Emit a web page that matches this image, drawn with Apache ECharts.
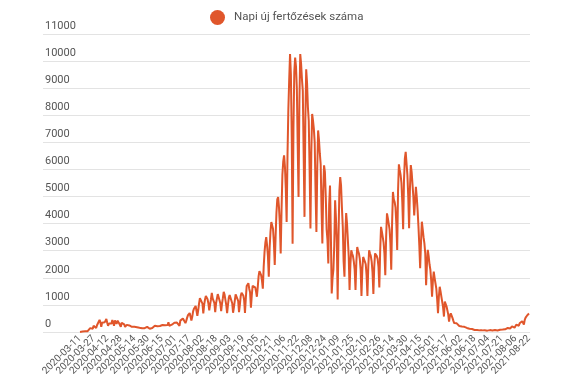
<!DOCTYPE html>
<html><head><meta charset="utf-8">
<script src="https://cdn.jsdelivr.net/npm/echarts@6/dist/echarts.min.js"></script>
<style>html,body{margin:0;padding:0;background:#fff}#c{width:575px;height:392px}</style>
</head><body><div id="c"></div>
<script>
const seriesName = 'Napi új fertőzések száma';
// daily values, month by month
const mar2020 = [4,10,30,19,16,29,26,62,32,31,59,66,143,186,144,123,230,160,260,146,250];
const apr2020 = [264,269,445,361,193,343,360,355,356,363,480,345,229,310,342,327,318,443,342,232,424,409,300,418,404,324,254,193,339,358];
const may2020 = [327,279,190,190,264,320,265,241,270,233,190,227,229,196,224,151,178,176,166,155,193,168,137,147,129,140,154,175,190,183,222];
const jun2020 = [120,150,140,150,200,170,230,190,160,210,260,220,220,240,230,260,190,270,250,270,220,260,360,230,250,250,270,340,330,340];
const jul2020 = [330,320,350,340,300,230,420,480,450,500,560,480,330,420,530,620,580,700,640,420,560,760,860,930,960,920,600,800,1050,1250,1220];
const aug2020 = [1300,1050,690,1000,1200,1330,1370,1210,1050,800,1010,1210,1440,1240,1240,1070,730,1060,1230,1400,1410,1390,1060,770,1050,1250,1480,1380,1360,990,700];
const sep2020 = [1000,1270,1360,1300,1300,1060,710,910,1150,1390,1440,1380,1150,730,1000,1330,1450,1470,1350,1180,700,1250,1700,1640,1800,1600,1470,900,1350,1700];
const oct2020 = [1760,1700,1650,1500,1300,1650,2050,2250,2300,2100,1900,1600,2400,2950,3300,3500,3200,2800,2040,3100,3700,4060,4000,3800,3300,2470,3500,4400,4900,4980,4600];
const nov2020 = [4000,2900,4500,5800,6300,6520,6100,5300,4060,6500,8200,9300,10260,9500,7200,3260,7500,9600,10130,9800,9000,6900,4980,8500,10260,9900,9340,8900,6600,4250];
const dec2020 = [7800,9700,9200,8300,7800,6000,3820,6600,8050,7800,7500,7000,5200,3690,6000,7440,7100,6600,6200,4600,3270,5200,6150,5900,5000,3800,3400,2530,4700,5410,3600];
const jan2021 = [1420,2000,2300,3200,4860,4200,3300,1200,3500,5200,5720,5400,4600,3900,2600,2040,3600,4390,4000,3390,2800,1550,2500,3020,2900,2800,2600,2300,1550,2600,3140];
const feb2021 = [3000,2900,2700,2300,1330,2300,2770,2700,2600,2500,2100,1330,2400,3020,2900,2800,2600,2200,1400,2400,2900,2850,2800,2700,2400,1640,3000,3880];
const mar2021 = [3700,3500,3300,2900,2100,3500,4380,4200,4000,3800,3300,2300,4000,5170,4900,4800,4600,4000,3030,5200,6190,5980,5800,5500,4800,3790,5600,6400,6650,6220,5800];
const apr2021 = [5000,3830,5300,6160,5900,5860,5000,4300,4800,5360,4980,4500,3900,3200,2350,3300,4070,3800,3500,3270,2900,1730,2500,3030,2800,2500,2300,1900,1300,1900];
const may2021 = [2230,2000,1800,1600,1200,690,1300,1670,1500,1300,1100,900,570,1120,1050,950,800,650,380,600,690,620,520,420,330,260,340,320,290,260,220];
const jun2021 = [200,240,200,180,220,190,150,130,150,170,140,120,100,90,110,100,85,75,70,80,75,70,65,60,70,65,60,55,55,65];
const jul2021 = [60,55,50,45,60,70,65,60,55,50,65,75,70,65,55,70,80,85,80,65,90,110,115,100,80,120,150,160,170,130];
const aug2021 = [180,210,220,200,160,230,270,290,300,230,320,360,390,400,340,270,450,530,580,620,650,680];

// category (date) labels
const startDate = '2020-03-11';
const endDate = '2021-08-22';
const missingDates = ['2021-07-11'];
const labelEvery = 16;
const yMin = 0, yMax = 11000, yStep = 1000;

function buildDates() {
  const out = [];
  const d = new Date(startDate + 'T00:00:00Z');
  const end = new Date(endDate + 'T00:00:00Z');
  while (d <= end) {
    const s = d.toISOString().slice(0, 10);
    if (missingDates.indexOf(s) < 0) out.push(s);
    d.setUTCDate(d.getUTCDate() + 1);
  }
  return out;
}
const categories = buildDates();
const lastIdx = categories.length - 1;
const values = [].concat(mar2020, apr2020, may2020, jun2020, jul2020, aug2020, sep2020, oct2020, nov2020, dec2020,
  jan2021, feb2021, mar2021, apr2021, may2021, jun2021, jul2021, aug2021);

const lineColor = '#e0562b';
const xLabelStyle = {rotate: 45, fontSize: 10, color: '#555', margin: 5, fontFamily: 'Roboto'};
const chart = echarts.init(document.getElementById('c'), null, {renderer: 'canvas'});
chart.setOption({
  animation: false,
  textStyle: {fontFamily: 'Roboto'},
  legend: {
    data: [seriesName], left: 205, top: 5, icon: 'circle', itemWidth: 15, itemHeight: 15, itemGap: 8,
    textStyle: {color: '#555', fontSize: 11.5, fontFamily: 'Roboto', padding: [0, 0, 0, 4]}
  },
  grid: [
    {left: 80, right: 46, top: 34, bottom: 60},
    {left: 43, right: 45, top: 34, bottom: 60}
  ],
  xAxis: [
    // interior date labels (every 16th day); the two end labels come from the axis below
    {type: 'category', gridIndex: 0, position: 'bottom', data: categories, boundaryGap: false,
     axisLine: {show: false}, axisTick: {show: false},
     axisLabel: Object.assign({}, xLabelStyle, {interval: labelEvery - 1, showMinLabel: false, showMaxLabel: false})},
    {type: 'category', gridIndex: 0, position: 'bottom', offset: 0, data: categories, boundaryGap: false,
     axisLine: {show: false}, axisTick: {show: false}, splitLine: {show: false},
     axisLabel: Object.assign({}, xLabelStyle, {
       interval: function (i) { return i === 0 || i === lastIdx; },
       showMinLabel: true, showMaxLabel: true})},
    {type: 'value', gridIndex: 1, show: false, min: 0, max: 1}
  ],
  yAxis: [
    {type: 'value', gridIndex: 0, min: yMin, max: yMax, interval: yStep, show: false},
    {type: 'value', gridIndex: 1, min: yMin, max: yMax, interval: yStep,
     axisLine: {show: false}, axisTick: {show: false},
     splitLine: {lineStyle: {color: '#e3e3e3', width: 1}},
     axisLabel: {inside: true, margin: 2, color: '#555', fontSize: 11, verticalAlign: 'bottom', lineHeight: 16,
                 fontFamily: 'Roboto', formatter: function (v) { return String(v); }}}
  ],
  series: [{
    name: seriesName, type: 'line', xAxisIndex: 0, yAxisIndex: 0, data: values,
    showSymbol: false, symbol: 'circle',
    lineStyle: {color: lineColor, width: 2}, itemStyle: {color: lineColor}
  }]
});
</script>
</body></html>
